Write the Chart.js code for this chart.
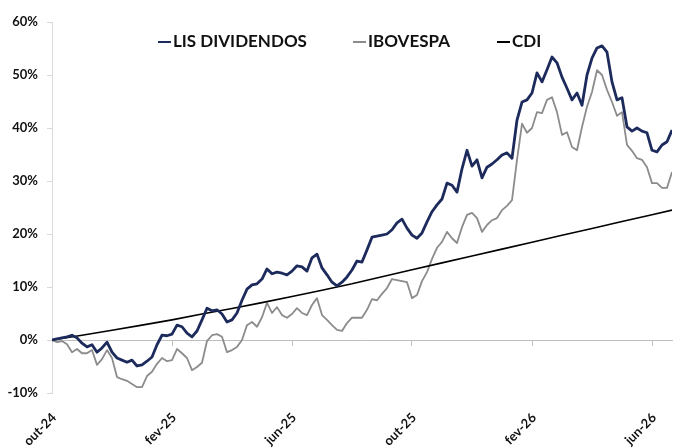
<!DOCTYPE html>
<html>
<head>
<meta charset="utf-8">
<script src="https://cdn.jsdelivr.net/npm/chart.js@4.4.1/dist/chart.umd.min.js"></script>
<style>
  html, body { margin: 0; padding: 0; background: #fff; }
  #wrap { position: relative; width: 673px; height: 448px; }
  #legend { position: absolute; left: 0; top: 0; font-family: Lato, sans-serif; font-weight: 700; font-size: 17px; color: #111; }
  .item { position: absolute; top: 31px; white-space: nowrap; line-height: 20px; }
  .item i { display: inline-block; width: 13px; height: 0; border-top: 2px solid; vertical-align: middle; margin-right: 2px; position: relative; top: -1px; }
</style>
</head>
<body>
<div id="wrap">
  <canvas id="c" width="673" height="448"></canvas>
  <div id="legend"></div>
</div>
<script>
// eixo x em meses desde out-24
const tickMonths = [0, 4, 8, 12, 16, 20];
const tickLabels = ['out-24', 'fev-25', 'jun-25', 'out-25', 'fev-26', 'jun-26'];
const yTicks = [-10, 0, 10, 20, 30, 40, 50, 60];
const seriesNames = ['LIS DIVIDENDOS', 'IBOVESPA', 'CDI'];
const seriesColors = ['#1c2a5c', '#8c8c8c', '#000000'];

// fundo e ibovespa: um ponto a cada 1/6 de mês (retorno acumulado, %)
const samplesPerMonth = 6;
const lisValues = [
  0, 0.2, 0.4, 0.6, 0.9, 0.4, -0.6, -1.3, -0.9, -2.3,
  -1.5, -0.4, -2.3, -3.4, -3.8, -4.2, -3.8, -4.9, -4.7, -4.0,
  -3.2, -0.9, 0.9, 0.8, 1.1, 2.8, 2.5, 1.3, 0.6, 1.7,
  3.8, 6.0, 5.5, 5.7, 4.9, 3.4, 3.8, 5.1, 7.5, 9.6,
  10.4, 10.6, 11.5, 13.4, 12.5, 12.8, 12.6, 12.3, 13.0, 14.0,
  13.8, 13.0, 15.5, 16.2, 13.6, 12.3, 10.9, 10.2, 10.9, 11.9,
  13.2, 14.9, 14.7, 17.0, 19.4, 19.6, 19.8, 20.0, 20.8, 22.1,
  22.8, 21.1, 19.8, 19.2, 20.2, 22.3, 24.2, 25.5, 26.6, 29.6,
  29.2, 27.9, 32.3, 35.8, 32.8, 34.0, 30.6, 32.6, 33.2, 34.0,
  34.9, 35.3, 34.3, 41.5, 44.9, 45.3, 46.6, 50.4, 48.7, 51.0,
  53.4, 52.3, 49.6, 47.5, 45.3, 46.6, 44.3, 50.0, 53.2, 55.1,
  55.5, 54.3, 48.7, 45.3, 45.7, 40.2, 39.4, 40.0, 39.4, 39.1,
  35.8, 35.5, 36.8, 37.4, 39.6
];
const iboValues = [
  0, -0.4, -0.2, -0.8, -2.3, -1.7, -2.5, -2.5, -1.9, -4.7,
  -3.6, -1.9, -3.4, -7.0, -7.4, -7.7, -8.3, -8.9, -8.9, -6.8,
  -6.0, -4.5, -3.4, -4.0, -3.8, -1.7, -2.5, -3.4, -5.7, -5.1,
  -4.3, -0.2, 0.9, 1.1, 0.6, -2.3, -1.9, -1.3, 0, 2.8,
  3.4, 2.5, 4.3, 7.0, 5.1, 6.2, 4.7, 4.2, 4.9, 6.0,
  5.1, 4.7, 6.6, 7.9, 4.7, 3.8, 2.8, 1.9, 1.7, 3.2,
  4.2, 4.2, 4.2, 5.7, 7.7, 7.5, 8.7, 9.8, 11.5, 11.3,
  11.1, 10.9, 7.9, 8.5, 11.1, 12.8, 15.3, 17.4, 18.5, 20.4,
  19.2, 18.3, 21.3, 23.6, 24.0, 23.0, 20.4, 21.7, 22.6, 23.0,
  24.5, 25.3, 26.4, 34.0, 40.8, 39.1, 40.0, 43.0, 42.8, 45.3,
  45.8, 43.0, 38.7, 39.2, 36.4, 35.8, 40.2, 44.0, 46.8, 50.9,
  50.0, 47.2, 44.9, 42.3, 43.0, 36.8, 35.7, 34.3, 34.0, 32.6,
  29.6, 29.6, 28.7, 28.7, 31.7
];

// CDI: curva suave, lida mês a mês
const cdiMonths = [0, 1, 2, 3, 4, 5, 6, 7, 8, 9, 10, 11, 12, 13, 14, 15, 16, 17, 18, 19, 20, 20.67];
const cdiValues = [0, 0.9, 1.85, 2.8, 3.8, 4.9, 5.95, 7.05, 8.2, 9.4, 10.6, 11.95, 13.25, 14.55, 15.85, 17.15, 18.45, 19.75, 21.05, 22.35, 23.65, 24.5];

const lastMonth = (lisValues.length - 1) / samplesPerMonth;
const toPoints = vals => vals.map((v, i) => ({ x: i / samplesPerMonth, y: v }));
const setTicks = list => scale => { scale.ticks = list.map(v => ({ value: v })); };

const font = { family: 'Lato, sans-serif', size: 13, weight: 'bold' };

new Chart(document.getElementById('c'), {
  type: 'line',
  data: {
    datasets: [
      { label: seriesNames[0], data: toPoints(lisValues), borderColor: seriesColors[0], borderWidth: 2.8, order: 1 },
      { label: seriesNames[1], data: toPoints(iboValues), borderColor: seriesColors[1], borderWidth: 1.8, order: 3 },
      { label: seriesNames[2], data: cdiMonths.map((m, i) => ({ x: m, y: cdiValues[i] })), borderColor: seriesColors[2], borderWidth: 1.6, order: 2 }
    ]
  },
  options: {
    responsive: false,
    animation: false,
    layout: { padding: { top: 22, right: 1, bottom: 0, left: 0 } },
    elements: { point: { radius: 0 }, line: { tension: 0, borderJoinStyle: 'round' } },
    plugins: { legend: { display: false }, tooltip: { enabled: false } },
    scales: {
      x: {
        type: 'linear', min: 0, max: lastMonth,
        afterBuildTicks: setTicks(tickMonths),
        afterFit: s => { s.height = 55; },
        grid: { display: false },
        border: { display: false },
        ticks: {
          autoSkip: false, minRotation: 45, maxRotation: 45, padding: 9, labelOffset: 2,
          color: '#111', font,
          callback: (v, i) => tickLabels[i]
        }
      },
      x0: {
        axis: 'x', type: 'linear', min: 0, max: lastMonth,
        position: { y: 0 },
        afterBuildTicks: setTicks(tickMonths),
        grid: { drawOnChartArea: false, drawTicks: true, tickLength: 5, color: '#bfbfbf' },
        border: { color: '#bfbfbf', width: 1 },
        ticks: { display: false }
      },
      y: {
        type: 'linear', min: -10, max: 60,
        afterBuildTicks: setTicks(yTicks),
        afterFit: s => { s.width = 52; },
        grid: { drawOnChartArea: false, drawTicks: true, tickLength: 5, color: '#d9d9d9' },
        border: { color: '#d9d9d9', width: 1 },
        ticks: { padding: 9, color: '#111', font, callback: v => v + '%' }
      }
    }
  }
});

// legenda em HTML sobre o gráfico
const legendLeft = [158, 353, 497];
const legend = document.getElementById('legend');
seriesNames.forEach((name, k) => {
  const d = document.createElement('div');
  d.className = 'item';
  d.style.left = legendLeft[k] + 'px';
  const dash = document.createElement('i');
  dash.style.borderColor = seriesColors[k];
  d.appendChild(dash);
  d.appendChild(document.createTextNode(name));
  legend.appendChild(d);
});
</script>
</body>
</html>
